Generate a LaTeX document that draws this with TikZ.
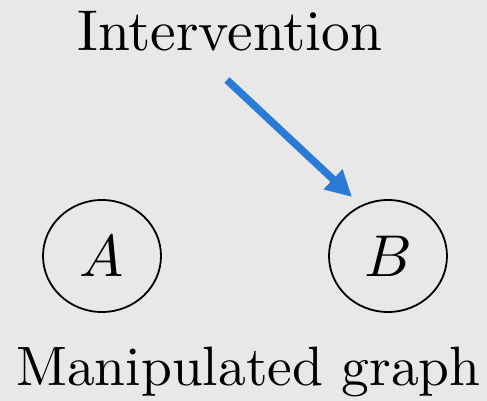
\documentclass[tikz,border=0pt]{standalone}
\usetikzlibrary{arrows.meta,shapes.geometric}
\definecolor{bgc}{RGB}{232,232,232}
\definecolor{arrowblue}{RGB}{42,123,213}
\tikzset{
  var/.style={draw=black, line width=1.8pt, shape=ellipse, inner sep=0pt, minimum width=118pt, minimum height=112pt},
  lbl/.style={anchor=base, inner sep=0pt},
  interv/.style={draw=arrowblue, line width=7.5pt, -{Triangle[length=26pt,width=26pt]}}
}
\begin{document}
\begin{tikzpicture}[x=1pt,y=-1pt]
  \fill[bgc] (0,0) rectangle (487,401);
  \useasboundingbox (0,0) rectangle (487,401);
  \node[lbl] (title) at (230,51) {\fontsize{10}{12}\selectfont\scalebox{5.75}{Intervention}};
  \node[lbl] (caption) at (248.5,385) {\fontsize{10}{12}\selectfont\scalebox{5.55}{Manipulated graph}};
  \node[var] (A) at (102,256) {\scalebox{5.9}{$A$}};
  \node[var] (B) at (388,256) {\scalebox{5.9}{$B$}};
  \coordinate (s) at (227,80);
  \coordinate (t) at (352,197);
  \draw[interv] (s) -- (t);
\end{tikzpicture}
\end{document}
